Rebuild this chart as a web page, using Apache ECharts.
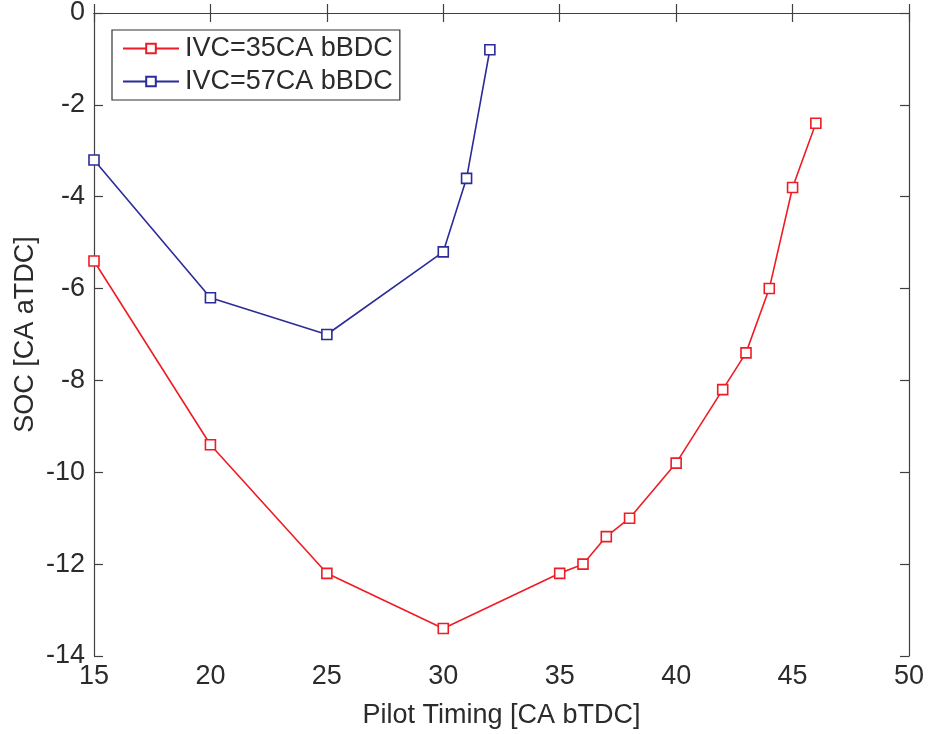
<!DOCTYPE html>
<html>
<head>
<meta charset="utf-8">
<script src="https://cdn.jsdelivr.net/npm/echarts@6/dist/echarts.min.js"></script>
<style>html,body{margin:0;padding:0;background:#fff;}#c{width:928px;height:734px;}</style>
</head>
<body>
<div id="c"></div>
<script>
const redX = [15, 20, 25, 30, 35, 36, 37, 38, 40, 42, 43, 44, 45, 46];
const redY = [-5.4, -9.4, -12.2, -13.4, -12.2, -12.0, -11.4, -11.0, -9.8, -8.2, -7.4, -6.0, -3.8, -2.4];
const blueX = [15, 20, 25, 30, 31, 32];
const blueY = [-3.2, -6.2, -7.0, -5.2, -3.6, -0.8];
const seriesNames = ['IVC=35CA bBDC', 'IVC=57CA bBDC'];
const xTitle = 'Pilot Timing [CA bTDC]';
const yTitle = 'SOC [CA aTDC]';

const FONT = 'Liberation Sans, Arial, Helvetica, sans-serif';
const AX = '#404040';
const TXT = '#2b2b2b';
const FS = 27;
const chart = echarts.init(document.getElementById('c'), null, {renderer: 'canvas'});

function pairs(xs, ys) { return xs.map((x, i) => [x, ys[i]]); }

const baseAxis = {
  axisLine: {show: true, lineStyle: {color: AX, width: 1.2}},
  axisTick: {show: true, inside: true, length: 9, lineStyle: {color: AX, width: 1.2}},
  splitLine: {show: false},
};

chart.setOption({
  animation: false,
  backgroundColor: '#fff',
  textStyle: {fontFamily: FONT},
  grid: {left: 94, right: 19, top: 13, bottom: 78, show: false, outerBoundsMode: 'none', containLabel: false},
  legend: {
    show: true,
    orient: 'vertical',
    left: 112, top: 30,
    padding: [5, 7, 5, 10],
    itemWidth: 56, itemHeight: 12,
    itemGap: 6,
    borderColor: '#333', borderWidth: 1.2,
    backgroundColor: '#fff',
    textStyle: {fontSize: FS, color: TXT, fontFamily: FONT, padding: [0, 0, 0, 1]},
    data: seriesNames
  },
  xAxis: [
    Object.assign({}, baseAxis, {
      type: 'value', min: 15, max: 50, interval: 5, position: 'bottom',
      name: xTitle, nameLocation: 'middle', nameGap: 46, nameMoveOverlap: false,
      nameTextStyle: {fontSize: FS, color: TXT, fontFamily: FONT},
      axisLabel: {fontSize: FS, color: TXT, margin: 7, fontFamily: FONT}
    }),
    Object.assign({}, baseAxis, {
      type: 'value', min: 15, max: 50, interval: 5, position: 'top',
      axisLabel: {show: false}
    })
  ],
  yAxis: [
    Object.assign({}, baseAxis, {
      type: 'value', min: -14, max: 0, interval: 2, position: 'left',
      name: yTitle, nameLocation: 'middle', nameGap: 55, nameRotate: 90, nameMoveOverlap: false,
      nameTextStyle: {fontSize: FS, color: TXT, fontFamily: FONT},
      axisLabel: {fontSize: FS, color: TXT, margin: 9, fontFamily: FONT}
    }),
    Object.assign({}, baseAxis, {
      type: 'value', min: -14, max: 0, interval: 2, position: 'right',
      axisLabel: {show: false}
    })
  ],
  series: [
    {
      name: seriesNames[0], type: 'line', xAxisIndex: 0, yAxisIndex: 0,
      data: pairs(redX, redY),
      symbol: 'rect', symbolSize: 10, showAllSymbol: true,
      lineStyle: {color: '#ee1c24', width: 1.6},
      itemStyle: {color: '#fff', borderColor: '#ee1c24', borderWidth: 1.6},
      color: '#ee1c24'
    },
    {
      name: seriesNames[1], type: 'line', xAxisIndex: 0, yAxisIndex: 0,
      data: pairs(blueX, blueY),
      symbol: 'rect', symbolSize: 10, showAllSymbol: true,
      lineStyle: {color: '#2b2b9a', width: 1.6},
      itemStyle: {color: '#fff', borderColor: '#2b2b9a', borderWidth: 1.6},
      color: '#2b2b9a'
    }
  ]
});
</script>
</body>
</html>
